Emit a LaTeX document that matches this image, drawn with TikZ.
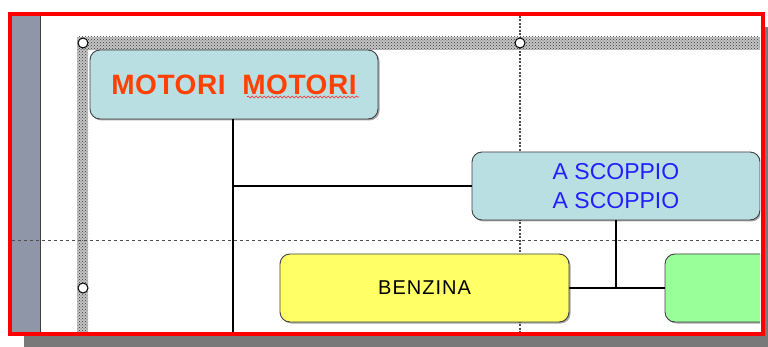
\documentclass[tikz,border=0pt]{standalone}
\usepackage{fontspec}
\setmainfont{Liberation Sans}
\usetikzlibrary{patterns,shadows,decorations.pathmorphing}
\definecolor{boxblue}{HTML}{B9DFE3}
\definecolor{boxyellow}{HTML}{FFFF66}
\definecolor{boxgreen}{HTML}{99FF99}
\definecolor{barcol}{HTML}{8E96A8}
\definecolor{txtorange}{HTML}{FF4000}
\definecolor{txtblue}{HTML}{2020FF}
\definecolor{bordercol}{HTML}{404040}
\tikzset{
  orgbox/.style={draw=bordercol, line width=0.9pt, rounded corners=10pt, minimum width=288pt, minimum height=68pt, inner sep=0pt, align=center,
    drop shadow={shadow xshift=1.5pt, shadow yshift=-1.5pt, opacity=0.35, fill=black}},
  link/.style={draw=black, line width=2.6pt},
  guide/.style={draw=gray!60!black, line width=1pt, dash pattern=on 3pt off 3pt},
  vguide/.style={draw=gray!60!black, line width=1.2pt, dash pattern=on 2pt off 1.5pt},
  handle/.style={circle, draw=black, fill=white, line width=1pt, minimum size=10pt, inner sep=0pt},
  band/.style={fill=gray!45, postaction={pattern=crosshatch dots, pattern color=black!80}},
}
\begin{document}
\begin{tikzpicture}[x=1pt, y=-1pt]
\useasboundingbox (0,0) rectangle (768,347);
% shadow of the frame
\fill[gray!95!black] (24,334) rectangle (768,347);
\fill[gray!95!black] (762,27) rectangle (768,347);
\fill[white] (8,12) rectangle (765,336);
\begin{scope}
\clip (12,16) rectangle (760,332);
% left gray bar
\fill[barcol] (12,16) rectangle (40,332);
\draw[bordercol, line width=1pt] (40,16) -- (40,332);
% hatched selection band
\path[band] (77,37) rectangle (760,50);
\path[band] (77,50) rectangle (88,332);
% guides
\draw[vguide] (520,16) -- (520,332);
\draw[guide] (12,241) -- (760,241);
% nodes
\node[orgbox, fill=boxblue, minimum height=69pt, font=\fontsize{28}{32}\selectfont\bfseries\addfontfeature{LetterSpace=2}, text=txtorange] (motori) at (234,84.5)
  {MOTORI\ \ MOTORI};
\node[orgbox, fill=boxblue, font=\fontsize{23}{29}\selectfont, text=txtblue] (scoppio) at (616,186)
  {A SCOPPIO\\A SCOPPIO};
\node[orgbox, fill=boxyellow, minimum width=289pt, font=\fontsize{20}{24}\selectfont\addfontfeature{LetterSpace=5}] (benzina) at (424.5,288)
  {BENZINA};
\node[orgbox, fill=boxgreen] (green) at (809,288) {};
% spell-check underline
\draw[red!85!white, line width=0.6pt, decorate, decoration={snake, segment length=4pt, amplitude=1pt}] (247,97) -- (359,97);
% connectors
\coordinate (mbottom) at (233,332);
\coordinate (sjoin) at (616,288);
\draw[link] (motori.south -| mbottom) -- (mbottom);
\draw[link] (scoppio.west -| mbottom) -- (scoppio.west);
\draw[link] (scoppio.south) -- (sjoin);
\draw[link] (benzina.east) -- (green.west);
% handles
\node[handle] (h1) at (83,43) {};
\node[handle] (h2) at (520,43) {};
\node[handle] (h3) at (83,288) {};
\end{scope}
% red frame
\draw[red, line width=4pt] (10,14) rectangle (762.5,334);
\end{tikzpicture}
\end{document}
